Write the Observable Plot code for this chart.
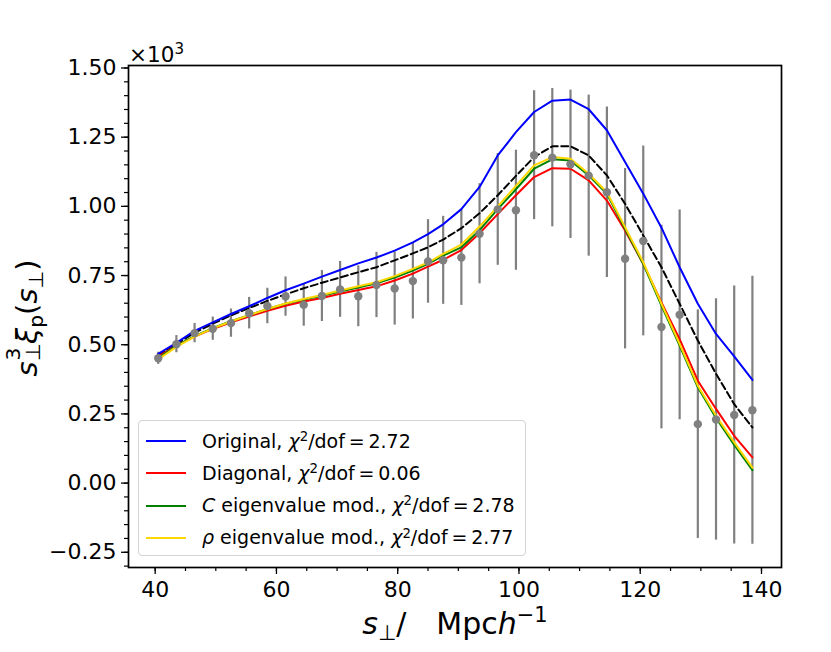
<!DOCTYPE html>
<html>
<head>
<meta charset="utf-8">
<script src="https://cdn.jsdelivr.net/npm/d3@7"></script>
<script src="https://cdn.jsdelivr.net/npm/@observablehq/plot@0.6"></script>
<style>
  body { margin: 0; background: white; }
  #wrap { position: relative; width: 831px; height: 652px; font-family: "DejaVu Sans", sans-serif; color: black; }
  .abs { position: absolute; white-space: nowrap; line-height: 1; }
  .sup { position: relative; top: -0.55em; font-size: 0.7em; }
  .sub { position: relative; top: 0.3em; font-size: 0.7em; }
  .ss { display: inline-block; position: relative; width: 0.6em; height: 0; vertical-align: baseline; }
  .ss .a { position: absolute; left: 0.05em; top: -1.70em; font-size: 0.7em; line-height: 1; }
  .ss .b { position: absolute; left: 0.02em; top: -0.70em; font-size: 0.7em; line-height: 1; }
  .leg { position: absolute; left: 138px; top: 420px; width: 388px; height: 136px; border: 1px solid #d4d4d4; border-radius: 4px; background: rgba(255,255,255,0.85); box-sizing: border-box; }
  .hl { position: absolute; height: 0; border-top: 2px solid; width: 40px; }
</style>
</head>
<body>
<div id="wrap"></div>
<script>
// separations (Mpc/h)
const sPerp = [40.5,43.5,46.5,49.5,52.5,55.5,58.5,61.5,64.5,67.5,70.5,73.5,76.5,79.5,82.5,85.0,87.5,90.5,93.5,96.5,99.5,102.5,105.5,108.5,111.5,114.5,117.5,120.5,123.5,126.5,129.5,132.5,135.5,138.5];
// measured s^3 xi (x10^3) and 1-sigma errors
const measured = [0.451,0.502,0.542,0.558,0.578,0.614,0.640,0.674,0.644,0.676,0.700,0.675,0.716,0.703,0.730,0.801,0.805,0.815,0.901,0.989,0.986,1.185,1.176,1.152,1.111,1.051,0.811,0.875,0.564,0.608,0.213,0.230,0.246,0.263];
const errors = [0.022,0.031,0.035,0.042,0.051,0.057,0.064,0.071,0.077,0.092,0.101,0.110,0.118,0.132,0.137,0.151,0.159,0.173,0.181,0.202,0.217,0.233,0.250,0.268,0.291,0.308,0.326,0.343,0.368,0.379,0.413,0.436,0.466,0.484];
// model curves
const original = [0.467,0.507,0.550,0.581,0.611,0.639,0.669,0.697,0.721,0.746,0.770,0.794,0.815,0.840,0.870,0.900,0.935,0.990,1.070,1.184,1.268,1.341,1.382,1.386,1.351,1.275,1.160,1.046,0.923,0.780,0.648,0.539,0.458,0.373];
const truth = [0.463,0.503,0.543,0.576,0.606,0.633,0.658,0.682,0.704,0.724,0.743,0.762,0.780,0.805,0.830,0.852,0.880,0.921,0.975,1.040,1.110,1.178,1.217,1.217,1.184,1.112,1.009,0.895,0.780,0.648,0.515,0.395,0.285,0.201];
const diagonal = [0.457,0.497,0.529,0.557,0.581,0.602,0.623,0.641,0.656,0.669,0.684,0.698,0.711,0.732,0.757,0.782,0.807,0.842,0.903,0.972,1.040,1.106,1.138,1.136,1.094,1.021,0.913,0.792,0.653,0.520,0.370,0.268,0.171,0.093];
const cEig = [0.452,0.496,0.531,0.560,0.585,0.607,0.629,0.648,0.663,0.677,0.692,0.707,0.722,0.743,0.768,0.792,0.822,0.852,0.914,0.990,1.062,1.136,1.170,1.166,1.112,1.045,0.919,0.792,0.641,0.497,0.346,0.235,0.138,0.047];
const rhoEig = [0.447,0.492,0.529,0.559,0.584,0.607,0.629,0.649,0.665,0.680,0.696,0.711,0.726,0.748,0.774,0.797,0.828,0.862,0.927,1.000,1.074,1.148,1.178,1.172,1.118,1.051,0.925,0.798,0.648,0.503,0.352,0.243,0.147,0.056];

const xTicks = [40,60,80,100,120,140];
const xMinor = d3.range(40, 145, 5);
const yTicks = [-0.25,0,0.25,0.5,0.75,1.0,1.25,1.5];
const yMinor = d3.range(-0.30, 1.5001, 0.05).map(v => +v.toFixed(2));

const legendItems = [
  {color: "#0000ff", html: 'Original, <i>χ</i><span class="sup" style="top:-0.5em">2</span>/dof\u2009=\u20092.72'},
  {color: "#ff0000", html: 'Diagonal, <i>χ</i><span class="sup" style="top:-0.5em">2</span>/dof\u2009=\u20090.06'},
  {color: "#008000", html: '<i>C</i> eigenvalue mod., <i>χ</i><span class="sup" style="top:-0.5em">2</span>/dof\u2009=\u20092.78'},
  {color: "#ffd700", html: '<i>ρ</i> eigenvalue mod., <i>χ</i><span class="sup" style="top:-0.5em">2</span>/dof\u2009=\u20092.77'}
];

const obs = sPerp.map((x, i) => ({x, y: measured[i], lo: measured[i] - errors[i], hi: measured[i] + errors[i]}));
const series = (arr) => sPerp.map((x, i) => ({x, y: arr[i]}));

const chart = Plot.plot({
  width: 831, height: 652,
  marginLeft: 128, marginRight: 50, marginTop: 65, marginBottom: 85,
  x: {domain: [35.6, 143.3]},
  y: {domain: [-0.305, 1.509]},
  style: {fontFamily: "DejaVu Sans, sans-serif", fontSize: "22px", color: "black", background: "white", overflow: "visible"},
  marks: [
    Plot.axisX({ticks: xMinor, tickSize: 4, text: null, label: null, strokeWidth: 1.2}),
    Plot.axisX({ticks: xTicks, tickSize: 7, tickPadding: 7, tickFormat: d => String(d), label: null, strokeWidth: 1.3}),
    Plot.axisY({ticks: yMinor, tickSize: 4, text: null, label: null, strokeWidth: 1.2}),
    Plot.axisY({ticks: yTicks, tickSize: 7, tickPadding: 5, tickFormat: d3.format(".2f"), label: null, strokeWidth: 1.3}),
    Plot.ruleX(obs, {x: "x", y1: "lo", y2: "hi", stroke: "#808080", strokeWidth: 2.2}),
    Plot.line(series(truth), {x: "x", y: "y", stroke: "black", strokeWidth: 2, strokeDasharray: "7,3.5"}),
    Plot.line(series(original), {x: "x", y: "y", stroke: "#0000ff", strokeWidth: 2}),
    Plot.line(series(diagonal), {x: "x", y: "y", stroke: "#ff0000", strokeWidth: 2}),
    Plot.line(series(cEig), {x: "x", y: "y", stroke: "#008000", strokeWidth: 2}),
    Plot.line(series(rhoEig), {x: "x", y: "y", stroke: "#ffd700", strokeWidth: 2}),
    Plot.dot(obs, {x: "x", y: "y", r: 4.2, fill: "#808080"}),
    Plot.frame({stroke: "black", strokeWidth: 1.7})
  ]
});

const wrap = document.getElementById("wrap");
wrap.appendChild(chart);
chart.style.position = "absolute";
chart.style.left = "0px";
chart.style.top = "0px";

function addDiv(html, css) {
  const d = document.createElement("div");
  d.className = "abs";
  d.innerHTML = html;
  Object.assign(d.style, css);
  wrap.appendChild(d);
  return d;
}

// multiplier
addDiv('×10<span class="sup" style="top:-0.5em">3</span>', {left: "129px", top: "44px", fontSize: "21.5px"});

// x label
addDiv('<i>s</i><span class="sub">⊥</span>/\u2003Mpc<i>h</i><span class="sup">−1</span>', {fontSize: "30px", top: "608.5px", left: "455px", transform: "translateX(-50%)"});

// y label
addDiv('<i>s</i><span class="ss"><span class="a">3</span><span class="b">⊥</span></span><i>ξ</i><span class="sub">p</span>(<i>s</i><span class="sub">⊥</span>)',
  {fontSize: "29px", left: "26.5px", top: "317.5px", transform: "translate(-50%,-50%) rotate(-90deg)"});

// legend
const leg = document.createElement("div");
leg.className = "leg";
wrap.appendChild(leg);
legendItems.forEach((it, i) => {
  const h = document.createElement("div");
  h.className = "hl";
  h.style.borderTopColor = it.color;
  h.style.left = (145 - 138) + "px";
  h.style.top = (440 - 420 + i * 32.3 - 1) + "px";
  leg.appendChild(h);
  const t = document.createElement("div");
  t.className = "abs";
  t.style.fontSize = "19px";
  t.style.left = (201 - 138) + "px";
  t.style.top = (430.5 - 420 + i * 32.3) + "px";
  t.innerHTML = it.html;
  leg.appendChild(t);
});
</script>
</body>
</html>
